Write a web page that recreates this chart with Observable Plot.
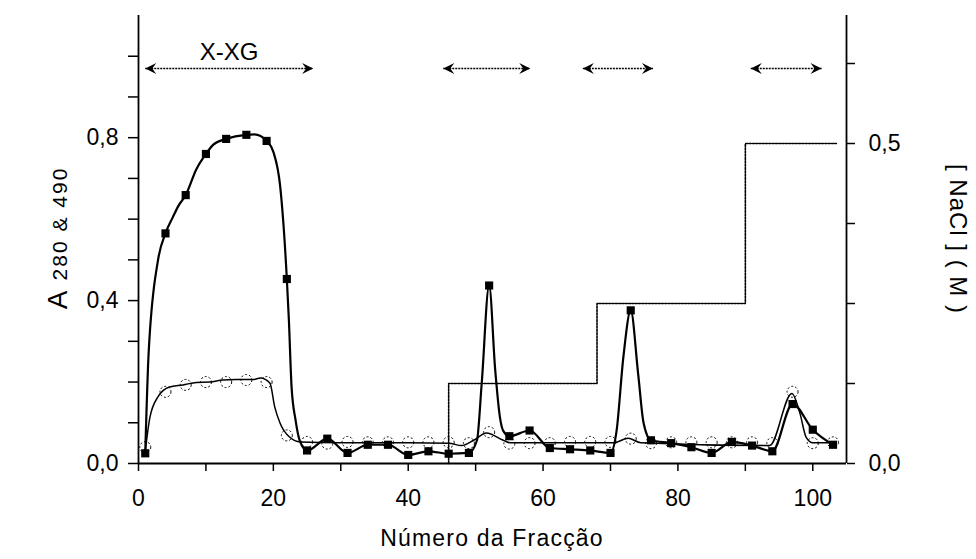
<!DOCTYPE html>
<html><head><meta charset="utf-8">
<script src="https://cdn.jsdelivr.net/npm/d3@7"></script>
<script src="https://cdn.jsdelivr.net/npm/@observablehq/plot@0.6"></script>
<style>
body{margin:0;background:#fff}
svg{font-family:"Liberation Sans",Arial,sans-serif}
</style>
</head><body><div id="chart"></div>
<script>
// ---- data ----
const markerFractions = [1,4,7,10,13,16,19,22,25,28,31,34,37,40,43,46,49,52,55,58,61,64,67,70,73,76,79,82,85,88,91,94,97,100,103];
const a280Markers = [0.025,0.565,0.659,0.760,0.797,0.807,0.792,0.453,0.032,0.061,0.026,0.046,0.046,0.021,0.030,0.024,0.026,0.437,0.067,0.081,0.038,0.035,0.032,0.026,0.376,0.057,0.050,0.040,0.026,0.053,0.044,0.030,0.146,0.083,0.046];
const a490Markers = [0.040,0.176,0.193,0.200,0.200,0.205,0.200,0.069,0.053,0.049,0.053,0.052,0.052,0.052,0.052,0.052,0.050,0.077,0.049,0.050,0.050,0.053,0.053,0.053,0.061,0.050,0.052,0.052,0.052,0.052,0.052,0.050,0.176,0.050,0.052];
// extra points read along the A280 curve between markers
const a280CurveFractions = [1.5,2.9,5.1,5.9,8.6,11.1,17.2,20,21,22.3,22.7,23.3,23.9,50.2,50.9,52.9,53.6,54.1,70.9,71.9,74.1,74.9];
const a280CurveValues   = [0.27,0.50,0.605,0.632,0.723,0.783,0.808,0.765,0.682,0.353,0.188,0.106,0.057,0.057,0.197,0.23,0.114,0.08,0.08,0.26,0.22,0.10];
// thin A490 curve
const a490CurveFractions = [1,1.7,2.9,4.6,6.6,8.6,10.6,12.5,14.5,17,18.1,19.5,20.2,21,22.4,24,30,40,46,47.9,49.7,51.6,54.1,55.1,65,70.5,72.6,74.5,93.6,96.9,98.1,99,100,103];
const a490CurveValues   = [0.03,0.114,0.164,0.188,0.193,0.199,0.200,0.205,0.206,0.206,0.210,0.197,0.139,0.099,0.065,0.053,0.051,0.051,0.050,0.044,0.057,0.075,0.057,0.051,0.051,0.051,0.062,0.051,0.044,0.172,0.123,0.065,0.051,0.051];
// NaCl step gradient (M)
const naclFractions = [46,46,68,90,103.5];
const naclValues = [0,0.125,0.25,0.5,0.5];
// elution arrows (fraction ranges)
const arrowStarts = [1,45.2,65.9,90.8];
const arrowEnds = [25.9,58.1,76.3,101.3];
const arrowLabels = ["X-XG","","",""];
// ticks
const xTicks = [0,10,20,30,40,50,60,70,80,90,100];
const xTickLabels = ["0","","20","","40","","60","","80","","100"];
const leftTicks = [0,0.1,0.2,0.3,0.4,0.5,0.6,0.7,0.8,0.9,1.0];
const leftTickLabels = ["0,0","","","","0,4","","","","0,8","",""];
const rightTicks = [0,0.125,0.25,0.375,0.5,0.625];
const rightTickLabels = ["0,0","","","","0,5",""];

// ---- build ----
const K = 1.1/0.7; // right (NaCl) axis to left axis
const mk280 = markerFractions.map((x,i)=>({x, y:a280Markers[i]}));
const mk490 = markerFractions.map((x,i)=>({x, y:a490Markers[i]}));
const line280 = mk280.concat(a280CurveFractions.map((x,i)=>({x,y:a280CurveValues[i]}))).sort((a,b)=>a.x-b.x);
const line490 = a490CurveFractions.map((x,i)=>({x,y:a490CurveValues[i]}));
const nacl = naclFractions.map((x,i)=>({x, v:naclValues[i]}));
const arrows = arrowStarts.map((s,i)=>({x1:s, x2:arrowEnds[i], label:arrowLabels[i], mid:(s+arrowEnds[i])/2}));

const arrowHead = {draw(ctx){ ctx.moveTo(0,0); ctx.lineTo(-11,-5.5); ctx.lineTo(-7,0); ctx.lineTo(-11,5.5); ctx.closePath(); }};
const ARROW_Y = 0.97;

const chart = Plot.plot({
  width: 976, height: 559,
  marginLeft: 138, marginRight: 130, marginTop: 15, marginBottom: 96,
  x: {domain: [0,105]},
  y: {domain: [0,1.1]},
  style: {fontFamily: '"Liberation Sans", Arial, sans-serif', color: "#000", background: "#fff", overflow: "visible"},
  marks: [
    Plot.axisX({ticks: xTicks, tickFormat: d=>xTickLabels[xTicks.indexOf(d)], tickSize: 8, tickPadding: 18, fontSize: 23, letterSpacing: 0.8, label: null, strokeWidth: 1.5}),
    Plot.axisY({anchor: "left", ticks: leftTicks, tickFormat: d=>leftTickLabels[leftTicks.indexOf(d)], tickSize: 10, tickPadding: 10, fontSize: 23, letterSpacing: 0.8, label: null, strokeWidth: 1.5}),
    Plot.axisY({anchor: "right", ticks: rightTicks.map(v=>v*K), tickFormat: (d,i)=>rightTickLabels[i], tickSize: 8, tickPadding: 14, fontSize: 23, letterSpacing: 0.8, label: null, strokeWidth: 1.5}),
    Plot.ruleY([0], {strokeWidth: 1.8}),
    Plot.ruleX([0,105], {strokeWidth: 1.8}),
    Plot.line(nacl, {x: "x", y: d=>d.v*K, curve: "step-after", strokeDasharray: "2,1.3", strokeWidth: 1.6}),
    Plot.line(line490, {x: "x", y: "y", curve: "monotone-x", strokeWidth: 1.5}),
    Plot.dot(mk490, {x: "x", y: "y", r: 5.5, stroke: "#000", fill: "none", strokeWidth: 1, strokeDasharray: "2,2"}),
    Plot.line(line280, {x: "x", y: "y", curve: "monotone-x", strokeWidth: 2.2}),
    Plot.dot(mk280, {x: "x", y: "y", symbol: "square", r: 4.6, fill: "#000", stroke: "none"}),
    Plot.link(arrows, {x1: "x1", x2: "x2", y1: ()=>ARROW_Y, y2: ()=>ARROW_Y, strokeDasharray: "2,1", strokeWidth: 1.6}),
    Plot.dot(arrows, {x: "x2", y: ()=>ARROW_Y, symbol: arrowHead, fill: "#000", stroke: "none"}),
    Plot.dot(arrows, {x: "x1", y: ()=>ARROW_Y, symbol: arrowHead, rotate: 180, fill: "#000", stroke: "none"}),
    Plot.text(arrows.filter(d=>d.label), {x: "mid", y: ()=>1.005, text: "label", fontSize: 24, letterSpacing: 0.5, dy: -2})
  ]
});

const svg = d3.select(chart);
// x-axis title
svg.append("text").attr("x", 492).attr("y", 546).attr("text-anchor","middle")
  .attr("font-size", 23).attr("letter-spacing","1.2").text("Número da Fracção");
// left title
const lt = svg.append("text").attr("transform","translate(67,238) rotate(-90)").attr("text-anchor","middle").attr("letter-spacing","2");
lt.append("tspan").attr("font-size",28).text("A ");
lt.append("tspan").attr("font-size",21).text("280 & 490");
// right title
svg.append("text").attr("transform","translate(950,239) rotate(90)").attr("text-anchor","middle")
  .attr("font-size",24).attr("letter-spacing","1").text("[ NaCl ] ( M )");

document.getElementById("chart").appendChild(chart);
</script>
</body></html>
